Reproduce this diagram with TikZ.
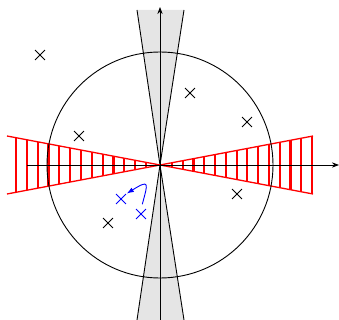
\documentclass[tikz,border=0pt]{standalone}
\usepackage{tikz}
\usetikzlibrary{arrows.meta, shapes.misc}

\begin{document}
\begin{tikzpicture}[
  x=1pt, y=1pt,
  >=Stealth,
  every path/.style={line width=0.9pt},
  pt/.style={cross out, draw, line width=0.9pt, minimum size=9pt, inner sep=0pt},
  bluept/.style={pt, draw=blue},
  hatch/.style={red, line width=2.2pt},
  rim/.style={red, line width=1.3pt},
]
  \useasboundingbox (-160,-155) rectangle (179,165);
  \coordinate (o) at (0,0);

  % grey double cone
  \fill[gray!20] (-23,155) -- (o) -- (24,155) -- cycle;
  \fill[gray!20] (-23,-155) -- (o) -- (24,-155) -- cycle;
  \draw (-23,155) -- (o) -- (24,-155);
  \draw (24,155) -- (o) -- (-23,-155);

  % red hatched double cone
  \foreach \k in {0,...,12}
    \draw[hatch] ({-14-10.83*\k},{-0.19*(14+10.83*\k)}) -- ({-14-10.83*\k},{0.19*(14+10.83*\k)});
  \foreach \k in {0,...,13}
    \draw[hatch] ({12+10.77*\k},{-0.19*(12+10.77*\k)}) -- ({12+10.77*\k},{0.19*(12+10.77*\k)});
  \draw[rim] (-153,29) -- (o) -- (153,-29);
  \draw[rim] (-153,-29) -- (o) -- (153,29);

  \draw (o) circle (113);

  % axes
  \draw[->] (-133,0) -- (179,0);
  \draw[->] (0,-155) -- (0,158);

  % points
  \node[pt] (p1) at (-120,110) {};
  \node[pt] (p2) at (30,72) {};
  \node[pt] (p3) at (87,43) {};
  \node[pt] (p4) at (-81,29) {};
  \node[pt] (p5) at (77,-29) {};
  \node[pt] (p6) at (-52,-58) {};
  \node[bluept] (q1) at (-39,-34) {};
  \node[bluept] (q2) at (-19,-49) {};

  \draw[-{Latex[length=7pt, width=5pt]}, blue, shorten <=5pt, shorten >=1pt]
    (q2.north) .. controls (-12,-18) and (-10,-14) .. (q1.north east);
\end{tikzpicture}
\end{document}
